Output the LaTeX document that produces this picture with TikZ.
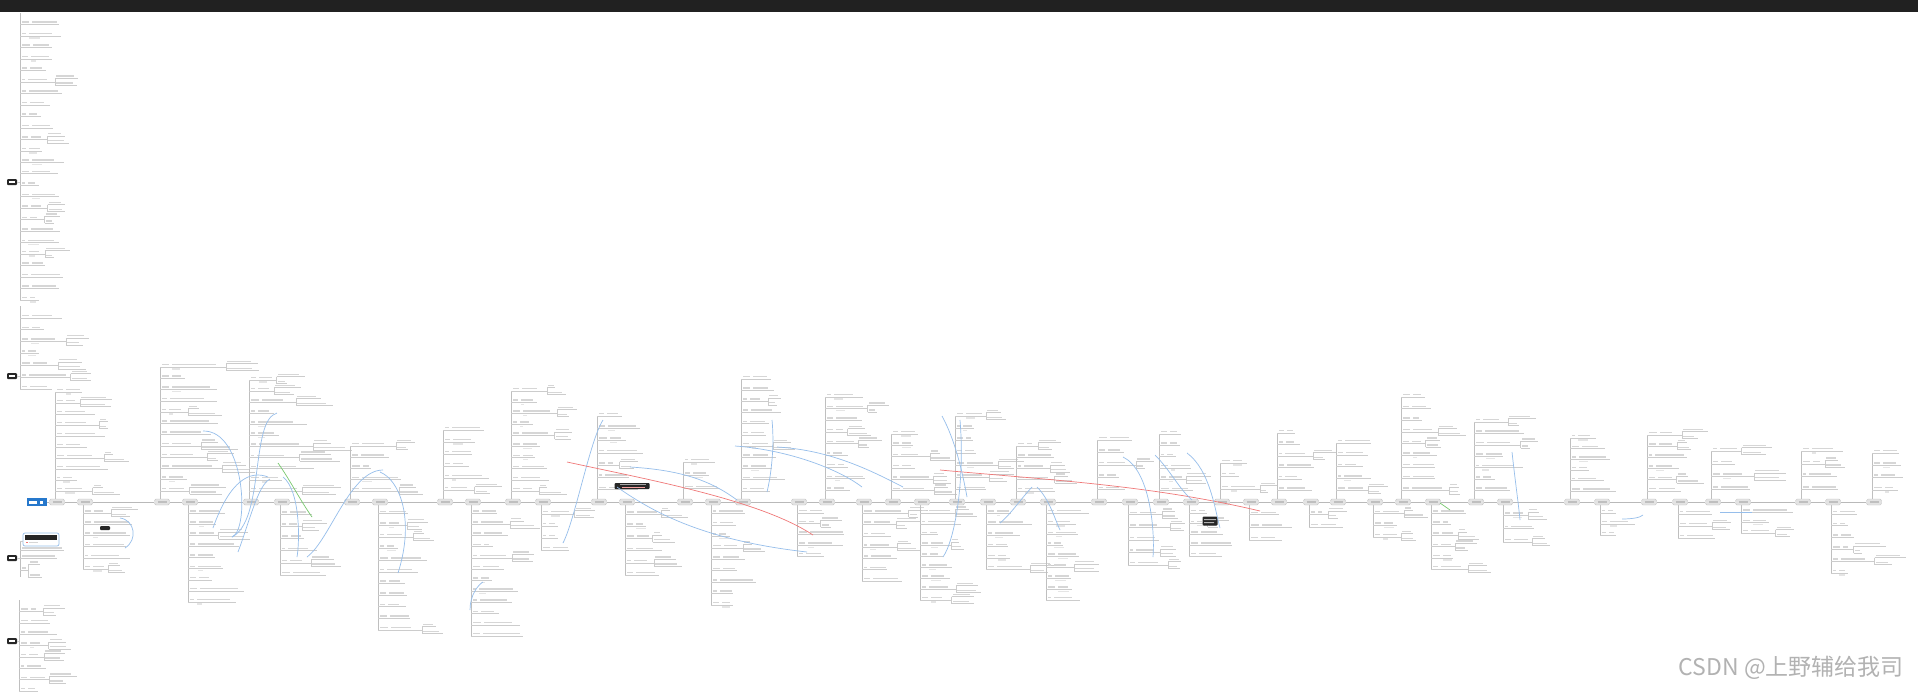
\documentclass[tikz,border=0pt]{standalone}
\usepackage{fontspec}
\newfontfamily\cjk{Noto Sans CJK SC}
\definecolor{rootblue}{RGB}{38,120,204}
\definecolor{relblue}{RGB}{150,190,235}
\definecolor{relred}{RGB}{240,120,120}
\definecolor{relgreen}{RGB}{120,200,110}
\tikzset{
  trunk/.style={draw=gray!50, line width=0.6pt},
  br/.style={draw=gray!40, line width=0.5pt},
  txt/.style={fill=gray!32},
  note/.style={fill=gray!20},
  spn/.style={rectangle, rounded corners=1.5pt, fill=gray!22, draw=gray!45, line width=0.4pt, minimum width=15pt, minimum height=6pt, inner sep=0pt},
  rootbox/.style={rectangle, fill=rootblue, minimum width=20pt, minimum height=8pt, inner sep=0pt},
  dk/.style={rectangle, rounded corners=1pt, fill=black!85, minimum width=10pt, minimum height=6pt, inner sep=0pt},
  spine/.style={draw=gray!55, line width=0.8pt},
  rel/.style={draw=relblue, line width=0.7pt},
  relr/.style={draw=relred, line width=0.7pt},
  relg/.style={draw=relgreen, line width=0.7pt}
}
% tree: #1 trunk x, #2 start y, #3 end y, #4 max width
\newcommand\mtree[4]{%
  \pgfmathsetmacro\tX{#1}%
  \pgfmathsetmacro\yA{#2}%
  \pgfmathsetmacro\yB{#3}%
  \pgfmathsetmacro\mW{#4}%
  \pgfmathtruncatemacro\nB{max(1,round(abs(\yB-\yA)/11.5))}%
  \pgfmathsetmacro\sP{(\yB-\yA)/\nB}%
  \draw[trunk] (\tX,\yA) -- (\tX,\yB);
  \foreach \i in {1,...,\nB}{%
    \pgfmathsetmacro\yy{\yA+\i*\sP}%
    \pgfmathsetmacro\wa{7+5*rnd}%
    \pgfmathsetmacro\wb{8+0.75*\mW*rnd}%
    \pgfmathsetmacro\xa{\tX+\wa}%
    \pgfmathsetmacro\xb{\xa+\wb}%
    \draw[br] (\tX,\yy) -- (\xb,\yy);
    \fill[txt] (\tX+1.5,\yy-3.1) rectangle (\xa-2,\yy-1.6);
    \fill[txt] (\xa+1,\yy-3.1) rectangle (\xb-1-0.3*\wb*rnd,\yy-1.6);
    \pgfmathtruncatemacro\hasnote{rnd<0.3 ? 1 : 0}%
    \ifnum\hasnote=1
      \fill[note] (\xa+1,\yy+1.4) rectangle (\xa+4+8*rnd,\yy+2.8);
    \fi
    \pgfmathtruncatemacro\hassub{rnd<0.3 ? 1 : 0}%
    \ifnum\hassub=1
      \pgfmathsetmacro\wc{8+0.5*\mW*rnd}%
      \pgfmathsetmacro\wd{8+0.5*\mW*rnd}%
      \draw[br] (\xb,\yy) -- (\xb+3,\yy) (\xb+3,\yy-3.5) -- (\xb+3,\yy+3.5)
        (\xb+3,\yy-3.5) -- ++(\wc,0) (\xb+3,\yy+3.5) -- ++(\wd,0);
      \fill[txt] (\xb+4,\yy-6.4) rectangle (\xb+3+0.8*\wc,\yy-5.1);
      \fill[txt] (\xb+4,\yy+0.6) rectangle (\xb+3+0.8*\wd,\yy+1.9);
    \fi
  }%
}
\begin{document}
\begin{tikzpicture}[x=1pt,y=-1pt]
\useasboundingbox (0,0) rectangle (1918,691);
\fill[white] (0,0) rectangle (1918,691);
\fill[black!87] (0,0) rectangle (1918,12);
\pgfmathsetseed{12}

% spine trees
\foreach \x/\e/\w in {57/392/55, 85/569/45, 162/367/60, 190/602/50, 251/380/65, 282/575/45,
  352/446/45, 380/630/40, 445/430/40, 473/636/45, 513/391/40, 543/550/35, 599/416/40,
  627/575/40, 685/462/40, 713/605/45, 743/379/35, 799/556/40, 827/397/40, 864/581/35,
  893/434/35, 922/600/35, 957/416/35, 988/569/35, 1018/446/30, 1048/600/35, 1099/440/35,
  1130/565/30, 1161/434/35, 1191/556/35, 1222/463/30, 1251/540/35, 1279/433/35, 1311/527/30,
  1338/443/40, 1375/537/40, 1403/397/40, 1433/569/35, 1476/422/45, 1505/542/25, 1572/438/40,
  1602/535/40, 1649/435/40, 1680/538/30, 1713/451/50, 1743/533/45, 1803/451/40, 1833/573/50,
  1874/453/30}{%
  \mtree{\x-2}{502}{\e}{\w}
}

% left trees
\mtree{20}{13}{300}{35}
\mtree{20}{306}{389}{45}
\mtree{19}{600}{691}{40}
\node[dk] (d1) at (12,182) {};
\node[dk] (d2) at (12,376) {};
\node[dk] (d3) at (12,558) {};
\node[dk] (d4) at (12,641) {};
\draw[br] (d1.east) -- (20,182);
\draw[br] (d2.east) -- (20,376);
\draw[br] (d4.east) -- (19,641);
\foreach \d in {d1,d2,d3,d4}{\fill[white] ([xshift=-3pt]\d.center) ++(0,-0.7) rectangle ++(6,1.4);}

% tree of d3
\draw[trunk] (20,541) -- (20,577);
\draw[br] (d3.east) -- (20,558);
\draw[rel, rounded corners=2pt] (23,533) rectangle (59,546);
\fill[black!85] (25,535) rectangle (57,539.5);
\fill[relred] (26,541.5) rectangle (27.5,543);
\fill[txt] (29,541.5) rectangle (38,543);
\draw[br] (20,541) -- (23,541);
\draw[br] (20,550) -- (64,550);
\fill[txt] (22,547) rectangle (62,548.6);
\draw[br] (20,558) -- (57,558);
\fill[txt] (22,555) rectangle (55,556.6);
\draw[br] (20,570) -- (28,570) (28,564) -- (28,577) (28,564) -- (40,564) (28,577) -- (42,577);
\fill[txt] (22,567) rectangle (26,568.6);
\fill[txt] (30,561) rectangle (38,562.6);
\fill[txt] (30,574) rectangle (40,575.6);

% root and spine nodes
\node[rootbox] (root) at (37,502) {};
\fill[white] (29,501) rectangle (37,503.5);
\fill[white] (40,501) rectangle (43,503.5);
\foreach \x [count=\k] in {57,85,162,190,251,282,352,380,445,473,513,543,599,627,685,713,743,799,827,864,
  893,922,957,988,1018,1048,1099,1130,1161,1191,1222,1251,1279,1311,1338,1375,1403,1433,1476,1505,
  1572,1602,1649,1680,1713,1743,1803,1833,1874}{%
  \node[spn] (s\k) at (\x,502) {};
  \fill[gray!50] (\x-4.5,501.4) rectangle (\x+4.5,502.6);
}
\draw[spine] (root) -- (s1);
\foreach \k in {1,...,48}{%
  \pgfmathtruncatemacro\j{\k+1}%
  \draw[spine] (s\k) -- (s\j);
}

% dark highlighted nodes
\node[dk, minimum width=35pt, minimum height=6pt] (h1) at (632,486) {};
\fill[relred!70] (622,486.5) rectangle (645,487.5);
\fill[gray!70] (620,484) rectangle (646,485);
\node[dk, minimum width=15pt, minimum height=9pt] (h2) at (1210,521) {};
\fill[gray!60] (1204,519) rectangle (1216,520) (1204,522) rectangle (1214,523);
\node[dk, minimum width=10pt, minimum height=4pt] (h3) at (105,528) {};

% relationship curves
\draw[rel] (203,431) .. controls (245,430) and (250,530) .. (232,537);
\draw[rel] (213,528) .. controls (230,480) and (250,470) .. (268,477);
\draw[rel] (232,537) .. controls (265,520) and (250,420) .. (277,413);
\draw[rel] (238,552) .. controls (250,520) and (258,485) .. (270,479);
\draw[rel] (283,477) .. controls (300,490) and (300,540) .. (297,557);
\draw[rel] (307,557) .. controls (330,540) and (350,470) .. (383,470);
\draw[rel] (380,472) .. controls (400,480) and (415,520) .. (398,573);
\draw[relg] (278,463) .. controls (290,480) and (300,500) .. (312,517);
\draw[rel] (470,610) .. controls (470,595) and (478,585) .. (483,582);
\draw[rel] (603,420) .. controls (590,440) and (575,520) .. (563,543);
\draw[rel] (630,467) .. controls (680,470) and (710,480) .. (737,500);
\draw[rel] (617,487) .. controls (650,510) and (700,540) .. (807,552);
\draw[relr] (567,462) .. controls (650,480) and (760,500) .. (813,535);
\draw[rel] (772,420) .. controls (775,450) and (770,480) .. (767,492);
\draw[rel] (777,447) .. controls (830,450) and (870,470) .. (903,487);
\draw[rel] (960,420) .. controls (965,480) and (955,540) .. (943,557);
\draw[relr] (940,470) .. controls (1050,480) and (1150,485) .. (1260,511);
\draw[rel] (1032,487) .. controls (1020,500) and (1010,515) .. (1000,523);
\draw[rel] (1037,487) .. controls (1050,500) and (1055,520) .. (1060,530);
\draw[rel] (1123,457) .. controls (1150,470) and (1155,530) .. (1153,557);
\draw[rel] (1187,453) .. controls (1210,470) and (1215,510) .. (1220,528);
\draw[relg] (1440,503) -- (1450,510);
\draw[rel] (1512,452) .. controls (1515,480) and (1518,500) .. (1520,520);
\draw[rel] (1622,519) .. controls (1630,519) and (1640,518) .. (1643,515);
\draw[rel] (1720,512) -- (1752,512);
\draw[rel] (735,446) .. controls (790,450) and (840,470) .. (862,487);
\draw[rel] (942,416) .. controls (955,440) and (962,470) .. (967,497);
\draw[rel] (1155,455) .. controls (1170,470) and (1180,490) .. (1192,500);
\draw[rel] (120,518) .. controls (135,520) and (138,540) .. (125,548);

% watermark
\node[anchor=east, text=gray!60, font=\cjk\fontsize{23}{23}\selectfont, inner sep=0pt] (wm) at (1904,668) {CSDN @上野辅给我司};
\end{tikzpicture}
\end{document}
